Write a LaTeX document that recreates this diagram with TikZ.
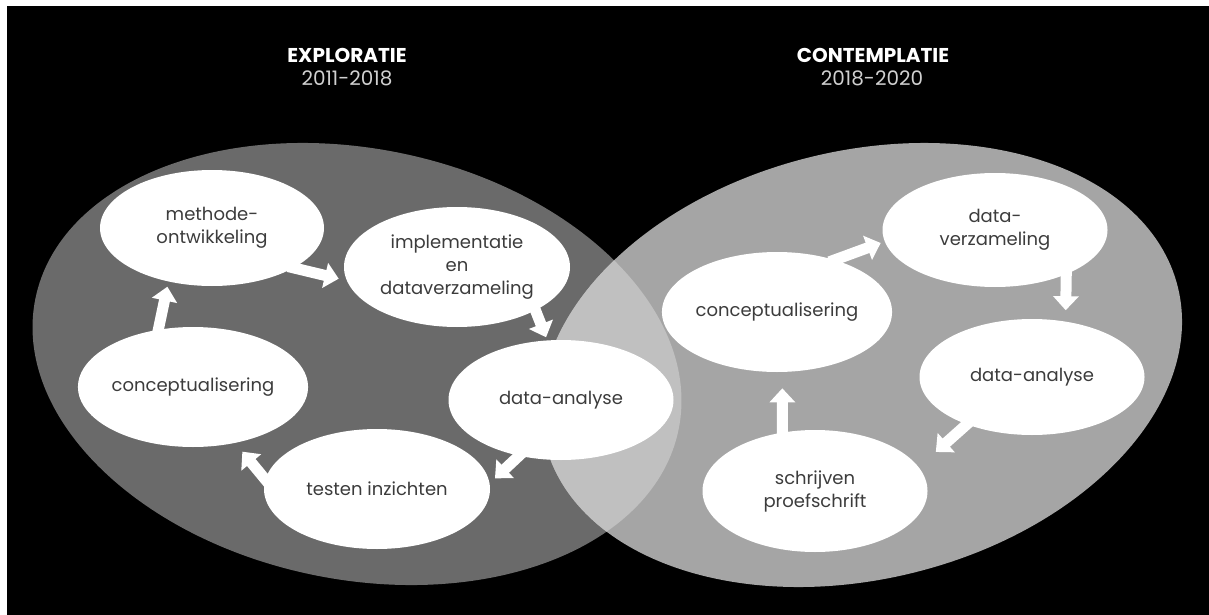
\documentclass[tikz,border=0pt]{standalone}
\usepackage{fontspec}
\setmainfont{Poppins}
\usetikzlibrary{shapes.geometric,arrows.meta}
\definecolor{leftgrey}{HTML}{6A6A6A}
\definecolor{rightgrey}{HTML}{A5A5A5}
\definecolor{lensgrey}{HTML}{C0C0C0}
\definecolor{txtgrey}{HTML}{3C3C3C}
\definecolor{yeargrey}{HTML}{D0D0D0}
\pgfdeclarelayer{bg}
\pgfsetlayers{bg,main}
\begin{document}
\begin{tikzpicture}[x=0.5pt,y=-0.5pt,
  phase/.style={ellipse, fill=white, minimum width=112.5pt, minimum height=60pt, inner sep=0pt, text=txtgrey, font=\fontsize{9}{11.5}\selectfont, align=center},
  flow/.style={draw=white, line width=5.5pt, shorten <=-3pt, -{Triangle[width=12.5pt,length=7pt]}},
  title/.style={text=white, font=\bfseries\fontsize{10}{12}\selectfont},
  years/.style={text=yeargrey, font=\fontsize{10}{12}\selectfont},
  leftshape/.style={rotate around={-11.5:(357,364)}},
  rightshape/.style={rotate around={13.8:(861.5,365)}}]
\useasboundingbox (0,0) rectangle (1209,615);

% phase nodes
\node[phase, minimum width=112pt, minimum height=58pt] (lm) at (212,228) {methode-\\ontwikkeling};
\node[phase, minimum width=113pt] (li) at (457,267) {implementatie\\en\\dataverzameling};
\node[phase] (lc) at (193,387) {conceptualisering};
\node[phase] (ld) at (561,400) {data-analyse};
\node[phase, minimum width=113pt] (lt) at (377,489) {testen inzichten};
\node[phase] (rc) at (777,312) {conceptualisering};
\node[phase, minimum height=57pt] (rv) at (995,230) {data-\\verzameling};
\node[phase, minimum height=58pt] (ra) at (1032,377) {data-analyse};
\node[phase, minimum height=61pt] (rs) at (815,491) {schrijven\\proefschrift};

% titles
\node[title] (t1) at (347,55) {EXPLORATIE};
\node[years] (y1) at (347,78) {2011-2018};
\node[title] (t2) at (873,55) {CONTEMPLATIE};
\node[years] (y2) at (872,78) {2018-2020};

\begin{pgfonlayer}{bg}
\fill[white] (0,0) rectangle (1209,615);
\fill[black] (6.5,6.5) rectangle (1209,615);
\fill[leftgrey, leftshape] (357,364) ellipse [x radius=328.2, y radius=215.4];
\fill[rightgrey, rightshape] (861.5,365) ellipse [x radius=325.8, y radius=214.1];
\begin{scope}
\clip[leftshape] (357,364) ellipse [x radius=328.2, y radius=215.4];
\fill[lensgrey, rightshape] (861.5,365) ellipse [x radius=325.8, y radius=214.1];
\end{scope}
% arrows
\draw[flow, shorten >=2.5pt] (lc.121.5) -- (lm.231.5);
\draw[flow, shorten >=4pt] (lm.-26.3) -- (li.187.8);
\draw[flow, shorten >=1.5pt] (li.-29.4) -- (ld.103.3);
\draw[flow, shorten >=3.5pt] (ld.233.8) -- (lt.3);
\draw[flow, shorten >=5.5pt] (lt.175.9) -- (lc.-53.1);
\draw[flow, shorten >=2pt] (rc.42.9) -- (rv.186.2);
\draw[flow, shorten >=5.5pt] (rv.-32.4) -- (ra.59.2);
\draw[flow, shorten >=11.3pt] (ra.216.9) -- (rs.13.5);
\draw[flow, shorten >=8pt] (rs.119.5) -- (rc.-85.2);
\end{pgfonlayer}
\end{tikzpicture}
\end{document}
